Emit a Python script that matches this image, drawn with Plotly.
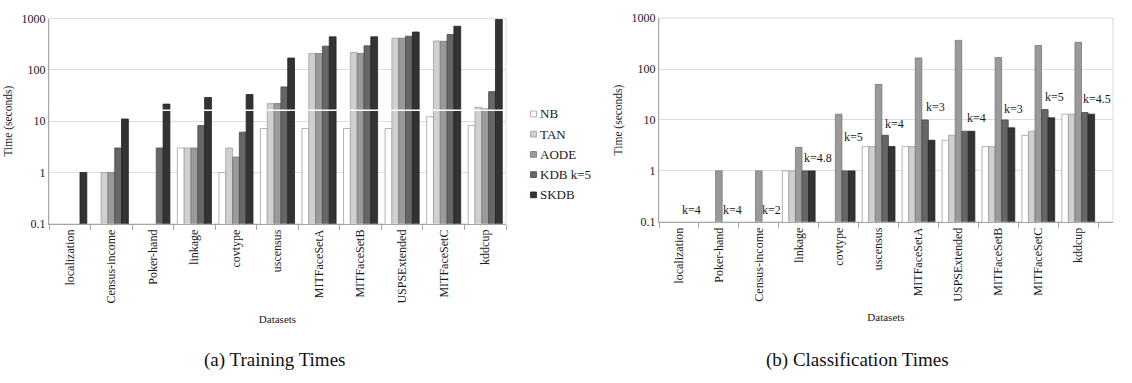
import math
import plotly.graph_objects as go

# Training times (seconds), left panel
train_datasets = ["localization", "Census-income", "Poker-hand", "linkage", "covtype",
                  "uscensus", "MITFaceSetA", "MITFaceSetB", "USPSExtended",
                  "MITFaceSetC", "kddcup"]
train_nb = [None, None, None, 3, 1, 7.2, 7.2, 7.2, 7.2, 12.2, 8.2]
train_tan = [None, 1, None, 3, 3, 22, 208, 218, 415, 365, 18.6]
train_aode = [None, 1, None, 3, 2, 22, 208, 208, 415, 360, 17.3]
train_kdb = [None, 3, 3, 8.2, 6.1, 46.6, 290, 294, 453, 487, 37.6]
train_skdb = [1, 11, 21.5, 29, 33, 170, 440, 440, 546, 708, 958]

# Classification times (seconds), right panel
cls_datasets = ["localization", "Poker-hand", "Census-income", "linkage", "covtype",
                "uscensus", "MITFaceSetA", "USPSExtended", "MITFaceSetB",
                "MITFaceSetC", "kddcup"]
cls_nb = [None, None, None, 1, None, 3, 3, 4, 3, 5, 13]
cls_tan = [None, None, None, 1, None, 3, 3, 5, 3, 6, 13]
cls_aode = [None, 1, 1, 2.9, 13, 50, 165, 365, 168, 290, 335]
cls_kdb = [None, None, None, 1, 1, 5, 10, 6, 10, 16, 14]
cls_skdb = [None, None, None, 1, 1, 3, 4, 6, 7, 11, 13]
cls_k_labels = ["k=4", "k=4", "k=2", "k=4.8", "k=5", "k=4", "k=3", "k=4", "k=3", "k=5", "k=4.5"]

series_names = ["NB", "TAN", "AODE", "KDB k=5", "SKDB"]
tick_vals = [0.1, 1, 10, 100, 1000]
tick_text = ["0.1", "1", "10", "100", "1000"]

fills = ["#ffffff", "#d0d0d0", "#9a9a9a", "#666666", "#333333"]
edges = ["#a0a0a0", "#a0a0a0", "#777777", "#4a4a4a", "#222222"]
SERIF = "Liberation Serif, Times New Roman, serif"
INK = "#1a1a1a"
W, H = 1132, 383

fig = go.Figure()

train_series = [train_nb, train_tan, train_aode, train_kdb, train_skdb]
cls_series = [cls_nb, cls_tan, cls_aode, cls_kdb, cls_skdb]

for i, name in enumerate(series_names):
    fig.add_trace(go.Bar(
        x=train_datasets, y=train_series[i], name=name,
        marker=dict(color=fills[i], line=dict(color=edges[i], width=0.8)),
        xaxis="x", yaxis="y", showlegend=False,
    ))
for i, name in enumerate(series_names):
    fig.add_trace(go.Bar(
        x=cls_datasets, y=cls_series[i], name=name,
        marker=dict(color=fills[i], line=dict(color=edges[i], width=0.8)),
        xaxis="x2", yaxis="y2", showlegend=False,
    ))


def px_x(p):
    return p / W


def px_y(p):
    return 1 - p / H


xaxis_common = dict(
    type="category", showline=True, linecolor="#a6a6a6", linewidth=1,
    ticks="outside", ticklen=5, tickcolor="#a6a6a6", tickson="boundaries",
    tickangle=-90, tickfont=dict(family=SERIF, size=12, color=INK),
    showgrid=False, zeroline=False,
    title=dict(text="Datasets", font=dict(family=SERIF, size=11, color=INK),
               standoff=12),
)
yaxis_common = dict(
    type="log", range=[-1, 3], tickvals=tick_vals, ticktext=tick_text,
    showline=True, linecolor="#a6a6a6", linewidth=1, ticks="",
    showgrid=True, gridcolor="#dcdcdc", gridwidth=1, zeroline=False,
    tickfont=dict(family=SERIF, size=12, color=INK),
    title=dict(text="Time (seconds)", font=dict(family=SERIF, size=11.5, color=INK),
               standoff=6),
)

fig.update_layout(
    width=W, height=H,
    margin=dict(l=0, r=0, t=0, b=0),
    paper_bgcolor="white", plot_bgcolor="white",
    barmode="group", bargap=0.18, bargroupgap=0,
    xaxis=dict(domain=[px_x(49), px_x(506)], anchor="y", **xaxis_common),
    yaxis=dict(domain=[px_y(225), px_y(12)], anchor="x", **yaxis_common),
    xaxis2=dict(domain=[px_x(659), px_x(1113)], anchor="y2", **xaxis_common),
    yaxis2=dict(domain=[px_y(223), px_y(11.5)], anchor="x2", **yaxis_common),
    showlegend=False,
)

# light frame around each plot area
for xr, yr in (("x domain", "y domain"), ("x2 domain", "y2 domain")):
    fig.add_shape(type="rect", xref=xr, yref=yr, x0=0, x1=1, y0=0, y1=1,
                  line=dict(color="#dcdcdc", width=1), layer="below")

# white rule crossing the training bars
fig.add_shape(type="line", xref="x domain", yref="y", x0=0, x1=1,
              y0=16.3, y1=16.3, line=dict(color="white", width=1.5), layer="above")

# series key beside the training panel: small swatch + name
key_left, key_top, key_step, key_size = 530.5, 111, 21, 6
for i, name in enumerate(series_names):
    cy = key_top + i * key_step
    fig.add_shape(type="rect", xref="paper", yref="paper",
                  x0=px_x(key_left), x1=px_x(key_left + key_size),
                  y0=px_y(cy + key_size / 2), y1=px_y(cy - key_size / 2),
                  fillcolor=fills[i], line=dict(color=edges[i], width=0.8))
    fig.add_annotation(x=px_x(key_left + key_size + 1.5), y=px_y(cy), xref="paper", yref="paper",
                       text=name, showarrow=False, xanchor="left", yanchor="middle",
                       font=dict(family=SERIF, size=13, color=INK))

# best-k annotations on the classification panel
label_y = [0.168, 0.168, 0.168, 1.79, 4.66, 8.3, 17.8, 10.7, 16.3, 28.2, 25.5]
label_dx = [0.32, 0.34, 0.32, 0.47, 0.37, 0.39, 0.42, 0.46, 0.39, 0.41, 0.47]
for i, txt in enumerate(cls_k_labels):
    fig.add_annotation(
        x=i + label_dx[i], y=math.log10(label_y[i]),
        xref="x2", yref="y2", text=txt, showarrow=False,
        xanchor="center", yanchor="middle",
        font=dict(family=SERIF, size=12, color=INK),
    )

# sub-figure captions
fig.add_annotation(x=px_x(274), y=px_y(366), xref="paper", yref="paper",
                   text="(a) Training Times", showarrow=False,
                   xanchor="center", yanchor="middle",
                   font=dict(family=SERIF, size=19, color="#111111"))
fig.add_annotation(x=px_x(858), y=px_y(366), xref="paper", yref="paper",
                   text="(b) Classification Times", showarrow=False,
                   xanchor="center", yanchor="middle",
                   font=dict(family=SERIF, size=19, color="#111111"))

fig.write_html("out.html")
